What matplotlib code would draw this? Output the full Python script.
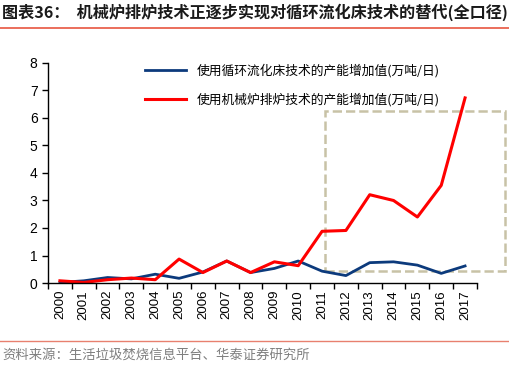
import numpy as np
import matplotlib.pyplot as plt
from matplotlib.patches import Rectangle
from matplotlib.lines import Line2D

plt.rcParams['font.family'] = ['Liberation Sans', 'Noto Sans CJK SC', 'DejaVu Sans']

years = [str(y) for y in range(2000, 2018)]
cfb = [0.02, 0.08, 0.20, 0.15, 0.32, 0.17, 0.40, 0.80, 0.38, 0.53,
       0.80, 0.43, 0.27, 0.74, 0.77, 0.65, 0.35, 0.62]
grate = [0.08, 0.02, 0.12, 0.18, 0.12, 0.87, 0.38, 0.80, 0.38, 0.77,
         0.63, 1.88, 1.91, 3.21, 3.00, 2.40, 3.55, 6.73]
label_cfb = "使用循环流化床技术的产能增加值(万吨/日)"
label_grate = "使用机械炉排炉技术的产能增加值(万吨/日)"
title = "图表36：  机械炉排炉技术正逐步实现对循环流化床技术的替代(全口径)"
source = "资料来源：生活垃圾焚烧信息平台、华泰证券研究所"

fig = plt.figure(figsize=(5.09, 3.74), dpi=100)
ax = fig.add_axes([0.0943, 0.2433, 0.8428, 0.5883])

x = np.arange(len(years))
ax.plot(x, cfb, color='#0c3a7c', lw=2.0, label=label_cfb)
ax.plot(x, grate, color='#ff0000', lw=2.2, label=label_grate)

ax.set_xlim(-0.5, len(years) - 0.5)
ax.set_ylim(0, 8)
ax.set_yticks(range(0, 9))
ax.set_xticks(x)
ax.set_xticklabels(years, rotation=90, fontsize=9.5)
ax.set_xticks(np.arange(-0.5, len(years)), minor=True)
ax.tick_params(axis='x', which='major', length=0, pad=5)
ax.tick_params(axis='x', which='minor', length=4, width=1, direction='out')
ax.tick_params(axis='y', labelsize=10, length=4, width=1, direction='out')
for s in ['top', 'right']:
    ax.spines[s].set_visible(False)
for s in ['left', 'bottom']:
    ax.spines[s].set_linewidth(1.0)

# dashed highlight box around 2011-2017
box = Rectangle((11.14, 0.45), 7.52, 5.82, fill=False, ls='--', lw=1.8,
                edgecolor='#c8c2a6', clip_on=False)
ax.add_patch(box)

handles = [Line2D([], [], color='#0c3a7c', lw=2.0),
           Line2D([], [], color='#ff0000', lw=2.2)]
leg = ax.legend(handles, [label_cfb, label_grate], loc='upper left',
                bbox_to_anchor=(0.2, 1.05), frameon=False, handlelength=3.2,
                labelspacing=1.2, prop={'family': ['Noto Sans CJK SC'], 'size': 9.2})

fig.text(0.004, 0.967, title, fontsize=11.6, fontweight='bold', color='#1a1a1a',
         va='center', ha='left', family=['Noto Sans CJK SC', 'DejaVu Sans'])
fig.add_artist(Line2D([0, 1], [1 - 28 / 374, 1 - 28 / 374], color='#e8553f', lw=1.2))
fig.add_artist(Line2D([0, 1], [1 - 341 / 374, 1 - 341 / 374], color='#e8806f', lw=1.0))
fig.text(0.004, 1 - 355 / 374, source, fontsize=9.6, color='#7f7f7f',
         va='center', ha='left', family=['Noto Sans CJK SC', 'DejaVu Sans'])

fig.savefig('out.png', dpi=100)
